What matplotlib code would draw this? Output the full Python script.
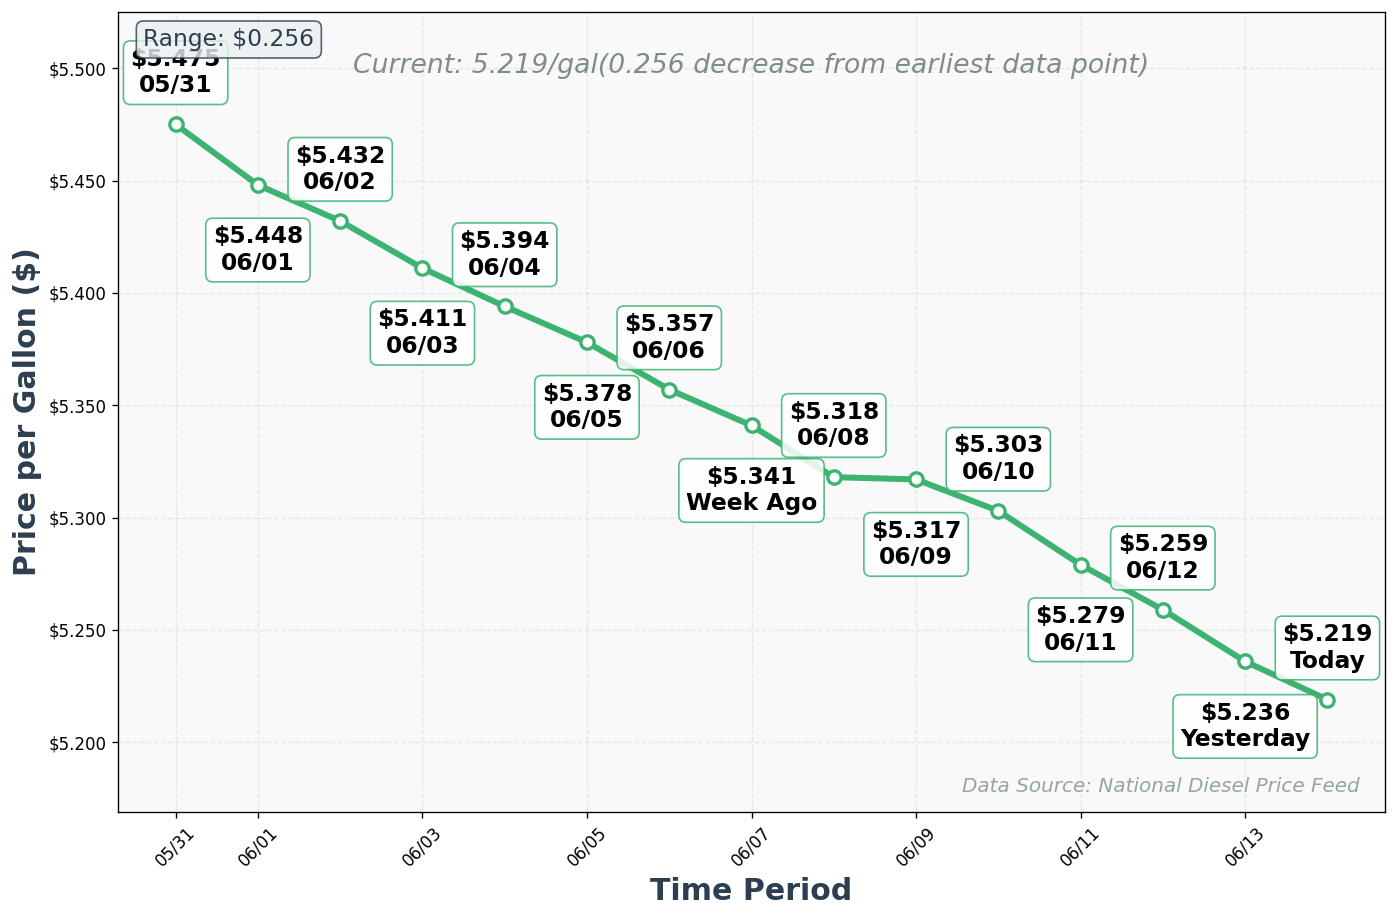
"""Diesel price trend chart with labelled daily points."""

import matplotlib
matplotlib.use("Agg")
import matplotlib.pyplot as plt  # noqa: E402
import matplotlib.dates as mdates  # noqa: E402
import pandas as pd  # noqa: E402

GREEN = "#3cb371"
NAVY = "#2c3e50"

dates = pd.date_range("2024-05-31", "2024-06-14", freq="D")
prices = [5.475, 5.448, 5.432, 5.411, 5.394, 5.378, 5.357, 5.341,
          5.318, 5.317, 5.303, 5.279, 5.259, 5.236, 5.219]
labels = ["05/31", "06/01", "06/02", "06/03", "06/04", "06/05", "06/06",
          "Week Ago", "06/08", "06/09", "06/10", "06/11", "06/12",
          "Yesterday", "Today"]

W, H, DPI = 1397, 918, 120
fig = plt.figure(figsize=(W / DPI, H / DPI), dpi=DPI)
ax = fig.add_axes([118 / W, 1 - 812 / H, (1385 - 118) / W, 800 / H])
ax.set_facecolor("#f9f9f9")

ax.plot(dates, prices, color=GREEN, linewidth=3.6, marker="o", markersize=8,
        markerfacecolor="white", markeredgecolor=GREEN, markeredgewidth=2, zorder=3)

for i, (d, p, lab) in enumerate(zip(dates, prices, labels)):
    dy = 31 if i % 2 == 0 else -39
    ax.annotate(f"${p:.3f}\n{lab}", xy=(d, p), xytext=(0, dy), textcoords="offset points",
                ha="center", va="center", fontsize=14, fontweight="bold", color="black",
                bbox=dict(boxstyle="round,pad=0.3", facecolor="white", edgecolor=GREEN,
                          alpha=0.85, linewidth=1), zorder=4)

ax.set_ylim(min(prices) - 0.05, max(prices) + 0.05)
ax.yaxis.set_major_formatter(plt.FuncFormatter(lambda v, _: f"${v:.3f}"))
ax.xaxis.set_major_locator(mdates.AutoDateLocator())
ax.xaxis.set_major_formatter(mdates.DateFormatter("%m/%d"))
plt.setp(ax.get_xticklabels(), rotation=45, fontsize=10)
plt.setp(ax.get_yticklabels(), fontsize=10)
ax.grid(True, linestyle="--", alpha=0.25)

ax.set_xlabel("Time Period", fontsize=18, fontweight="bold", color=NAVY)
ax.set_ylabel("Price per Gallon ($)", fontsize=18, fontweight="bold", color=NAVY)

change = prices[0] - prices[-1]
ax.text(0.5, 0.932, f"Current: {prices[-1]:.3f}/gal({change:.3f} decrease from earliest data point)",
        transform=ax.transAxes, ha="center", va="center", fontsize=16, style="italic",
        color="#7f8c8d")
ax.text(0.02, 0.98, f"Range: ${max(prices) - min(prices):.3f}", transform=ax.transAxes,
        ha="left", va="top", fontsize=14, color=NAVY, zorder=6,
        bbox=dict(boxstyle="round,pad=0.3", facecolor="#ecf0f1", edgecolor=NAVY, alpha=0.8))
ax.text(0.98, 0.02, "Data Source: National Diesel Price Feed", transform=ax.transAxes,
        ha="right", va="bottom", fontsize=12, style="italic", color="#95a5a6")

fig.savefig("out.png", dpi=DPI)
plt.close(fig)
